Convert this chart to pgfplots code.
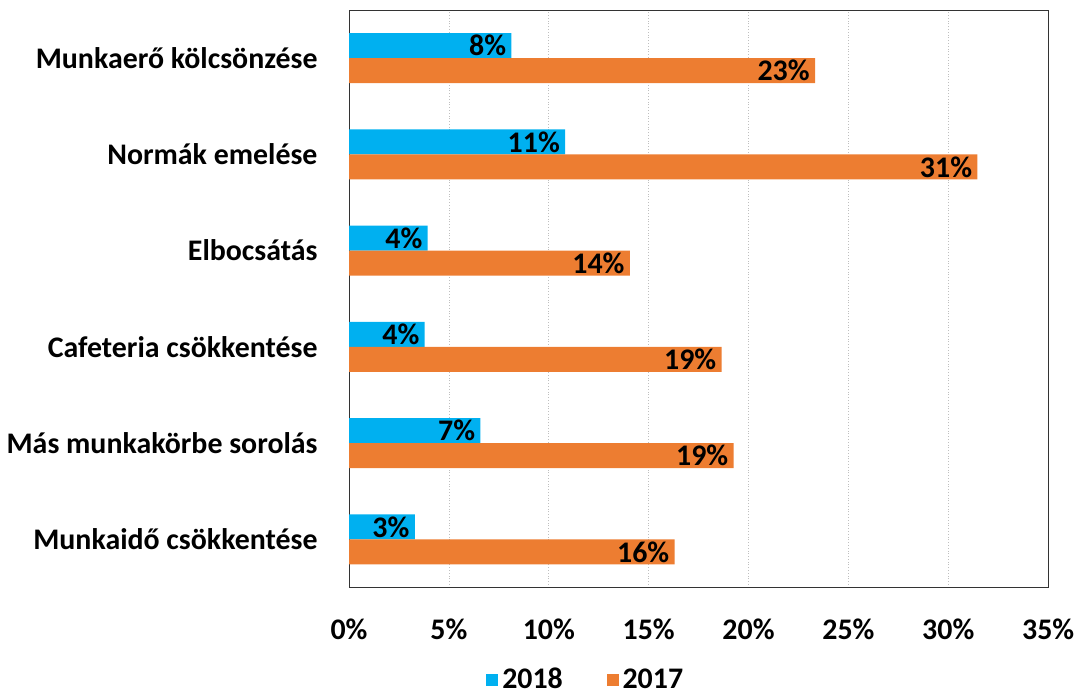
\documentclass[border=0pt]{standalone}
\usepackage{pgfplots}
\pgfplotsset{compat=1.18}
\usepackage{fontspec}
\setmainfont{Carlito}
\definecolor{c18}{HTML}{00B0F0}
\definecolor{c17}{HTML}{ED7D31}
\begin{document}
\begin{tikzpicture}
\begin{axis}[
    scale only axis,
    width=351pt, height=290pt,
    xmin=0, xmax=35, ymin=0.5, ymax=6.5,
    xtick={0,5,...,35},
    xticklabel={\pgfmathprintnumber{\tick}\%},
    /pgf/number format/assume math mode=true,
    ytick={1,...,6},
    yticklabels={Munkaidő csökkentése, Más munkakörbe sorolás, Cafeteria csökkentése, Elbocsátás, Normák emelése, Munkaerő kölcsönzése},
    tick style={draw=none},
    ticklabel style={font=\fontsize{15}{17}\selectfont\bfseries},
    yticklabel style={xshift=-8pt},
    xticklabel style={yshift=-12pt},
    xmajorgrids, grid style={gray!50, densely dotted},
    axis line style={black!80},
    xbar, bar width=0.26,
    nodes near coords, point meta=explicit symbolic,
    every node near coord/.append style={anchor=east, font=\fontsize{15}{17}\selectfont\bfseries, inner sep=2.5pt},
    legend style={at={(0.34,-0.16)}, anchor=center, draw=none, legend columns=2,
        font=\fontsize{15}{17}\selectfont\bfseries, /tikz/every even column/.append style={column sep=20pt}},
    legend image code/.code={\fill[#1] (0pt,-3pt) rectangle (6pt,3pt);},
]
\addplot[fill=c18, draw=none, bar shift=0.13] coordinates {
(3.29,1) [3\%] (6.58,2) [7\%] (3.79,3) [4\%] (3.94,4) [4\%] (10.82,5) [11\%] (8.13,6) [8\%]
};
\addplot[fill=c17, draw=none, bar shift=-0.13] coordinates {
(16.30,1) [16\%] (19.25,2) [19\%] (18.65,3) [19\%] (14.06,4) [14\%] (31.46,5) [31\%] (23.33,6) [23\%]
};
\legend{2018, 2017}
\end{axis}
\path ([xshift=-175pt,yshift=-49.5pt]current axis.south west) rectangle ([xshift=17pt,yshift=5pt]current axis.north east);
\end{tikzpicture}
\end{document}
